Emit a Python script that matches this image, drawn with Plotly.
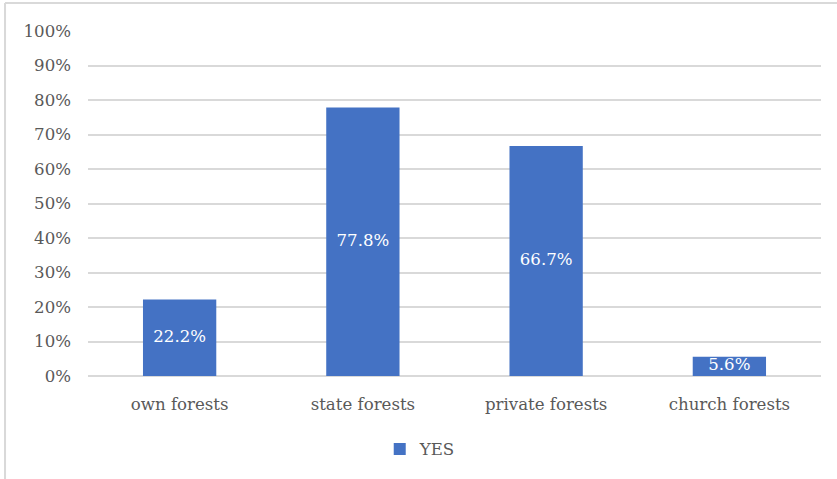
import plotly.graph_objects as go

categories = ["own forests", "state forests", "private forests", "church forests"]
values = [22.2, 77.8, 66.7, 5.6]
series_name = "YES"
tick_vals = [0, 10, 20, 30, 40, 50, 60, 70, 80, 90, 100]
tick_text = [f"{v}%" for v in tick_vals]

BLUE = "#4472C4"
GRID = "#D9D9D9"
TXT = "#595959"
FONT = "DejaVu Serif"
FS = 16.6

fig = go.Figure()
fig.add_trace(go.Bar(
    x=categories, y=values, name=series_name,
    marker=dict(color=BLUE, line=dict(width=0)),
    width=0.4, hoverinfo="skip",
))
fig.add_trace(go.Scatter(
    x=categories, y=[v / 2 for v in values],
    text=[f"{v:.1f}%" for v in values],
    mode="text", textfont=dict(family=FONT, size=FS, color="white"),
    showlegend=False, hoverinfo="skip", cliponaxis=True,
))

fig.update_layout(
    width=837, height=479,
    margin=dict(l=88, r=16, t=31, b=103),
    paper_bgcolor="white", plot_bgcolor="white",
    font=dict(family=FONT, size=FS, color=TXT),
    showlegend=True,
    legend=dict(orientation="h", x=0.398, xanchor="left", y=-0.212, yanchor="middle",
                font=dict(family=FONT, size=FS, color=TXT), itemwidth=30),
    xaxis=dict(showgrid=False, showline=False, ticks="", tickfont=dict(family=FONT, size=FS, color=TXT),
               range=[-0.5, 3.5], ticklabelstandoff=16),
    yaxis=dict(range=[0, 100], tickvals=tick_vals, ticktext=tick_text,
               showgrid=True, gridcolor=GRID, gridwidth=2, zeroline=True, zerolinecolor=GRID,
               zerolinewidth=2, showline=False, ticks="", ticklabelstandoff=16,
               tickfont=dict(family=FONT, size=FS, color=TXT)),
    shapes=[
        dict(type="line", xref="paper", yref="paper", x0=-0.1132, x1=1.1, y0=1.0812, y1=1.0812,
             line=dict(color=GRID, width=2), layer="above"),
        dict(type="line", xref="paper", yref="paper", x0=-0.1132, x1=-0.1132, y0=1.0812, y1=-0.35,
             line=dict(color=GRID, width=2), layer="above"),
    ],
)

fig.write_html("out.html")
